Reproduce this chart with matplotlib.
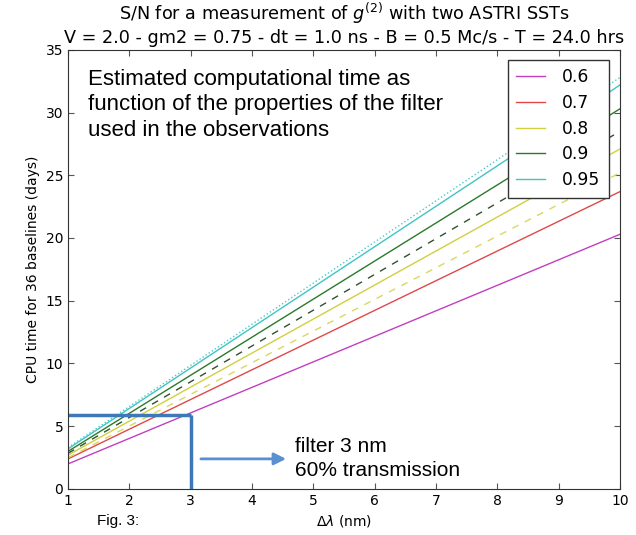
import matplotlib
matplotlib.use('Agg')
import matplotlib.pyplot as plt

# filter bandwidth (nm) at the two ends of the plot
dl = [1, 10]

# CPU time (days) for each filter transmission, solid lines
labels = ['0.6', '0.7', '0.8', '0.9', '0.95']
cpu_06 = [2.0, 20.3]
cpu_07 = [2.4, 23.7]
cpu_08 = [2.7, 27.1]
cpu_09 = [3.0, 30.3]
cpu_095 = [3.2, 32.2]

# extra curves (dashed / dotted) without legend entry
cpu_y_dash = [2.5, 25.2]
cpu_g_dash = [2.85, 28.5]
cpu_c_dot = [3.3, 32.8]

# annotation: 3 nm filter
filt_x = 3
filt_y = 5.9

plt.rcParams['font.family'] = 'DejaVu Sans'
plt.rcParams['xtick.direction'] = 'in'
plt.rcParams['ytick.direction'] = 'in'

fig = plt.figure(figsize=(6.36, 5.35), dpi=100)
ax = fig.add_axes([0.107, 0.086, 0.868, 0.821])

colors = ['#c040c0', '#e04848', '#d0d040', '#2a7a2a', '#40c4c4']
series = [cpu_06, cpu_07, cpu_08, cpu_09, cpu_095]
for vals, c, lab in zip(series, colors, labels):
    ax.plot(dl, vals, color=c, lw=1.0, label=lab)

ax.plot(dl, cpu_y_dash, color='#d8d860', lw=1.0, ls=(0, (5, 5)))
ax.plot(dl, cpu_g_dash, color='#305030', lw=1.0, ls=(0, (5, 5)))
ax.plot(dl, cpu_c_dot, color='#50c8c8', lw=1.0, ls=':')

# blue box for the 3 nm filter
ax.plot([1, filt_x], [filt_y, filt_y], color='#3f78b8', lw=2.5, solid_capstyle='butt')
ax.plot([filt_x, filt_x], [0, filt_y], color='#3f78b8', lw=2.5, solid_capstyle='butt')
ax.annotate('', xy=(4.6, 2.4), xytext=(3.12, 2.4),
            arrowprops=dict(arrowstyle='-|>', color='#5a90d0', lw=2,
                            mutation_scale=18))
ax.text(4.7, 3.35, 'filter 3 nm', fontsize=15, family='Liberation Sans',
        va='center', ha='left')
ax.text(4.7, 1.5, '60% transmission', fontsize=15, family='Liberation Sans',
        va='center', ha='left')

ax.text(1.33, 30.6, 'Estimated computational time as\n'
        'function of the properties of the filter\n'
        'used in the observations',
        fontsize=16, family='Liberation Sans', va='center', ha='left',
        linespacing=1.28)

ax.set_xlim(1, 10)
ax.set_ylim(0, 35)
ax.set_xticks(range(1, 11))
ax.set_yticks(range(0, 36, 5))
ax.tick_params(top=True, right=True, labelsize=10, length=4, color='#555555')
for s in ax.spines.values():
    s.set_color('#333333')

ax.set_xlabel(r'$\Delta\lambda$ (nm)', fontsize=10)
ax.set_ylabel('CPU time for 36 baselines (days)', fontsize=10)
ax.set_title('S/N for a measurement of $g^{(2)}$ with two ASTRI SSTs\n'
             'V = 2.0 - gm2 = 0.75 - dt = 1.0 ns - B = 0.5 Mc/s - T = 24.0 hrs',
             fontsize=12.7, pad=5)

leg = ax.legend(loc='upper right', bbox_to_anchor=(0.98, 0.977), fontsize=12.3,
                fancybox=False, framealpha=1, edgecolor='#333333',
                handlelength=1.7, borderpad=0.5, labelspacing=0.45,
                handletextpad=1.0, borderaxespad=0)
leg.get_frame().set_linewidth(1.0)

fig.text(0.152, 0.026, 'Fig. 3:', fontsize=11, family='Liberation Sans',
         va='center')

fig.savefig('out.png', dpi=100)
